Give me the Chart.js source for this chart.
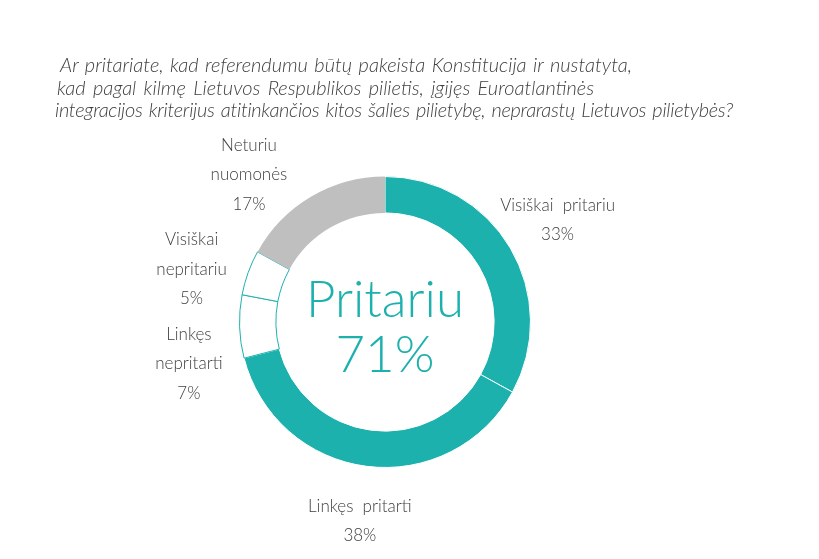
<!DOCTYPE html>
<html lang="lt">
<head>
<meta charset="utf-8">
<script src="https://cdn.jsdelivr.net/npm/chart.js@4.4.1/dist/chart.umd.min.js"></script>
<style>
  html, body { margin: 0; padding: 0; background: #fff; }
  #wrap { position: relative; width: 819px; height: 559px; overflow: hidden; }
  #chart { position: absolute; left: 0; top: 0; }
  .title { position: absolute; left: 0; top: 53px; font-family: Lato, "Open Sans", sans-serif;
           font-style: italic; font-weight: 300; font-size: 20px; line-height: 22.5px; color: #404040; }
  .title div { white-space: nowrap; text-align: justify; text-align-last: justify; }
</style>
</head>
<body>
<div id="wrap">
  <canvas id="chart" width="819" height="559"></canvas>
  <div class="title" id="title">
    <div style="margin-left:60px;width:572px">Ar pritariate, kad referendumu būtų pakeista Konstitucija ir nustatyta,</div>
    <div style="margin-left:57px;width:537px">kad pagal kilmę Lietuvos Respublikos pilietis, įgijęs Euroatlantinės</div>
    <div style="margin-left:55px;width:678px;letter-spacing:-0.3px">integracijos kriterijus atitinkančios kitos šalies pilietybę, neprarastų Lietuvos pilietybės?</div>
  </div>
</div>
<script>
// duomenys
const labels = [
    ['Visiškai  pritariu'],
    ['Linkęs  pritarti'],
    ['Linkęs', 'nepritarti'],
    ['Visiškai', 'nepritariu'],
    ['Neturiu', 'nuomonės']
];
const values = [33, 38, 7, 5, 17];
const centerLines = ['Pritariu', '71%'];

const TEAL = '#1db1ae';
const fills = [TEAL, TEAL, '#ffffff', '#ffffff', '#bfbfbf'];
const borders = ['#ffffff', '#ffffff', TEAL, TEAL, '#ffffff'];
const borderWidths = [1, 1, 1, 1, 0];

// etiketės neturi užlįsti ant antraštės
const titleBottom = document.getElementById('title').getBoundingClientRect().bottom;

// centrinis tekstas ir etiketes aplink ziedą
const labelPlugin = {
    id: 'ringLabels',
    afterDatasetsDraw(chart) {
        const ctx = chart.ctx;
        const meta = chart.getDatasetMeta(0);
        const first = meta.data[0];
        const cx = first.x, cy = first.y;
        const outer = first.outerRadius;

        ctx.save();
        ctx.fillStyle = TEAL;
        ctx.textAlign = 'center';
        ctx.textBaseline = 'alphabetic';
        ctx.font = '300 51px Lato, "Open Sans", sans-serif';
        ctx.fillText(centerLines[0], cx, cy - 5);
        ctx.fillText(centerLines[1], cx, cy + 50);

        const lineH = 29.5;
        const r = outer + 55;
        const boxes = meta.data.map((arc, i) => {
            const mid = (arc.startAngle + arc.endAngle) / 2;
            const lines = labels[i].concat([values[i] + '%']);
            return {
                lines,
                x: cx + Math.cos(mid) * r,
                y: cy + Math.sin(mid) * r,
                h: lines.length * lineH,
                left: Math.cos(mid) < 0
            };
        });

        // kairėje pusėje etiketės nesikerta
        const leftSide = boxes.filter(b => b.left && b.y < cy + outer * 0.6).sort((a, b) => a.y - b.y);
        leftSide.forEach((cur, k) => {
            const minTop = titleBottom + 10;
            if (cur.y - cur.h / 2 < minTop) cur.y = minTop + cur.h / 2;
            if (k > 0) {
                const prev = leftSide[k - 1];
                const minGap = (prev.h + cur.h) / 2 + 6;
                if (cur.y - prev.y < minGap) cur.y = prev.y + minGap;
            }
            const dy = cur.y - cy;
            if (Math.abs(dy) < r) cur.x = cx - Math.sqrt(r * r - dy * dy);
        });

        ctx.fillStyle = '#404040';
        ctx.font = '300 17px Lato, "Open Sans", sans-serif';
        ctx.textBaseline = 'middle';
        boxes.forEach(b => {
            const top = b.y - b.h / 2 + lineH / 2;
            b.lines.forEach((t, j) => ctx.fillText(t, b.x, top + j * lineH));
        });
        ctx.restore();
    }
};

new Chart(document.getElementById('chart').getContext('2d'), {
    type: 'doughnut',
    data: {
        labels: labels.map(l => l.join(' ')),
        datasets: [{
            data: values,
            backgroundColor: fills,
            borderColor: borders,
            borderWidth: borderWidths,
            hoverOffset: 0
        }]
    },
    options: {
        responsive: false,
        animation: false,
        cutout: '75%',
        layout: { padding: { top: 176, bottom: 91, left: 239, right: 288 } },
        plugins: {
            legend: { display: false },
            tooltip: { enabled: false }
        }
    },
    plugins: [labelPlugin]
});
</script>
</body>
</html>
